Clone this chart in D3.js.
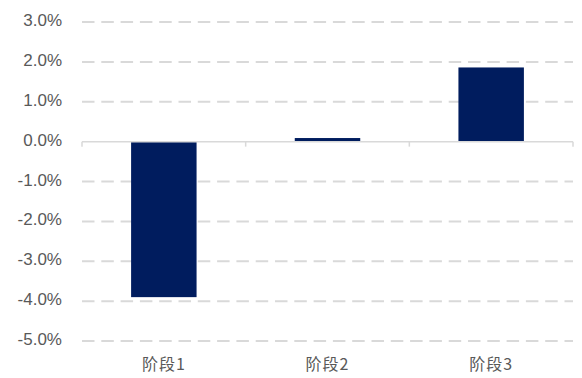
<!DOCTYPE html>
<html>
<head>
	<meta charset="utf-8">
	<script src="https://cdn.jsdelivr.net/npm/d3@7"></script>
</head>
<style type="text/css">
	body { margin:0; background:#fff; }
	text { font-family: "Liberation Sans", Arial, sans-serif; }
</style>
<body>
</body>
</html>
<script type="text/javascript">
	var categories = ["阶段1", "阶段2", "阶段3"];
	var values = [-3.9, 0.09, 1.86];
	var yTicks = [3, 2, 1, 0, -1, -2, -3, -4, -5];

	var width = 582, height = 378;
	var margin = {left:82, right:9, top:22, bottom:37};
	var w = width - margin.left - margin.right;
	var h = height - margin.top - margin.bottom;

	var svg = d3.select("body").append("svg").attr("width", width).attr("height", height);
	var g = svg.append("g").attr("transform", "translate(" + margin.left + "," + margin.top + ")");

	var x = d3.scaleBand().domain(categories).range([0, w]).paddingInner(0.6).paddingOuter(0.3);
	var xb = d3.scaleBand().domain(categories).range([0, w]);
	var y = d3.scaleLinear().domain([-5, 3]).range([h, 0]);

	// dashed gridlines
	g.selectAll(".grid").data(yTicks.filter(function(d){ return d !== 0; })).enter().append("line")
		.attr("x1", 0).attr("x2", w)
		.attr("y1", function(d){ return y(d); }).attr("y2", function(d){ return y(d); })
		.attr("stroke", "#d9d9d9").attr("stroke-width", 2)
		.attr("stroke-dasharray", "12.5,6.8");

	// y labels
	g.selectAll(".ylab").data(yTicks).enter().append("text")
		.attr("x", -20).attr("y", function(d){ return y(d) - 2; })
		.attr("dy", "0.36em").attr("text-anchor", "end")
		.attr("fill", "#595959").style("font-size", "17px")
		.text(function(d){ return d.toFixed(1) + "%"; });

	// bars
	g.selectAll(".bar").data(values).enter().append("rect")
		.attr("x", function(d, i){ return x(categories[i]); })
		.attr("width", x.bandwidth())
		.attr("y", function(d){ return y(Math.max(0, d)); })
		.attr("height", function(d){ return Math.abs(y(d) - y(0)); })
		.attr("fill", "#001c5e");

	// zero axis with ticks at band edges
	var zero = g.append("g").attr("transform", "translate(0," + y(0) + ")");
	zero.append("line").attr("x1", 0).attr("x2", w).attr("stroke", "#d9d9d9").attr("stroke-width", 1.5);
	var edges = categories.map(function(c){ return xb(c); }).concat([w]);
	zero.selectAll(".tk").data(edges).enter().append("line")
		.attr("x1", function(d){ return d; }).attr("x2", function(d){ return d; })
		.attr("y1", 0).attr("y2", 5)
		.attr("stroke", "#d9d9d9").attr("stroke-width", 1.5);

	// category labels
	g.selectAll(".xlab").data(categories).enter().append("text")
		.attr("x", function(d){ return xb(d) + xb.bandwidth() / 2; })
		.attr("y", h + 23)
		.attr("dy", "0.36em").attr("text-anchor", "middle")
		.attr("fill", "#595959")
		.style("font-family", "'Noto Sans CJK SC', sans-serif").style("font-size", "16px")
		.style("letter-spacing", "1px")
		.text(function(d){ return d; });
</script>
